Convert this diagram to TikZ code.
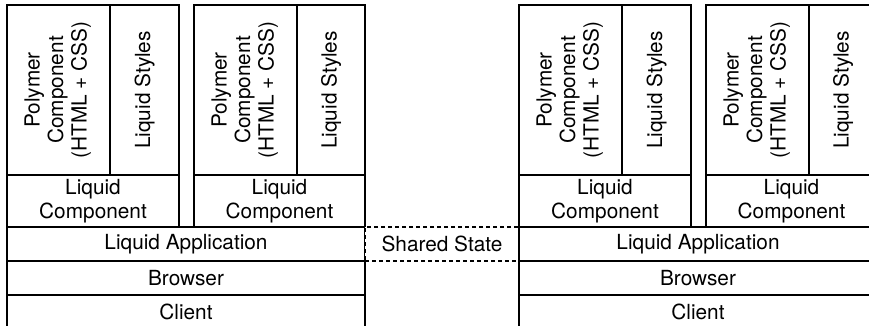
\documentclass[tikz,border=0pt]{standalone}
\usepackage{fontspec}
\setmainfont{TeX Gyre Heros}
\usetikzlibrary{positioning}
\begin{document}
\begin{tikzpicture}[x=1pt,y=-1pt,
    box/.style={draw,line width=1.5pt,inner sep=0pt,outer sep=0pt,
      font=\fontsize{20.8}{23.5}\selectfont,align=center},
    shared/.style={box,fill=white,dash pattern=on 4pt off 3pt}]
      \useasboundingbox (0,0) rectangle (869,326);
      \node[box,anchor=north west,minimum width=103pt,minimum height=170pt] (polyA) at (7,5)
        {\rotatebox{90}{\begin{tabular}{@{}c@{}}Polymer\\Component\\(HTML + CSS)\end{tabular}}};
      \node[box,right=0pt of polyA,minimum width=69pt,minimum height=170pt] (stylesA)
        {\rotatebox{90}{Liquid Styles}};
      \node[box,below right=0pt and 0pt of polyA.south west,minimum width=172pt,minimum height=52pt] (compA)
        {Liquid\\Component};
      \node[box,anchor=north west,minimum width=103pt,minimum height=170pt] (polyB) at (194,5)
        {\rotatebox{90}{\begin{tabular}{@{}c@{}}Polymer\\Component\\(HTML + CSS)\end{tabular}}};
      \node[box,right=0pt of polyB,minimum width=68pt,minimum height=170pt] (stylesB)
        {\rotatebox{90}{Liquid Styles}};
      \node[box,below right=0pt and 0pt of polyB.south west,minimum width=171pt,minimum height=52pt] (compB)
        {Liquid\\Component};
      \node[box,below right=0pt and 0pt of compA.south west,minimum width=358pt,minimum height=34pt] (app1)
        {Liquid Application};
      \node[box,below=0pt of app1,minimum width=358pt,minimum height=34pt] (browser1) {Browser};
      \node[box,below=0pt of browser1,minimum width=358pt,minimum height=34pt] (client1) {Client};
      \node[shared,right=0pt of app1,minimum width=154pt,minimum height=34pt] (state) {Shared State};
      \node[box,anchor=north west,minimum width=103pt,minimum height=170pt] (polyC) at (519,5)
        {\rotatebox{90}{\begin{tabular}{@{}c@{}}Polymer\\Component\\(HTML + CSS)\end{tabular}}};
      \node[box,right=0pt of polyC,minimum width=69pt,minimum height=170pt] (stylesC)
        {\rotatebox{90}{Liquid Styles}};
      \node[box,below right=0pt and 0pt of polyC.south west,minimum width=172pt,minimum height=52pt] (compC)
        {Liquid\\Component};
      \node[box,anchor=north west,minimum width=103pt,minimum height=170pt] (polyD) at (706,5)
        {\rotatebox{90}{\begin{tabular}{@{}c@{}}Polymer\\Component\\(HTML + CSS)\end{tabular}}};
      \node[box,right=0pt of polyD,minimum width=68pt,minimum height=170pt] (stylesD)
        {\rotatebox{90}{Liquid Styles}};
      \node[box,below right=0pt and 0pt of polyD.south west,minimum width=171pt,minimum height=52pt] (compD)
        {Liquid\\Component};
      \node[box,below right=0pt and 0pt of compC.south west,minimum width=358pt,minimum height=34pt] (app2)
        {Liquid Application};
      \node[box,below=0pt of app2,minimum width=358pt,minimum height=34pt] (browser2) {Browser};
      \node[box,below=0pt of browser2,minimum width=358pt,minimum height=34pt] (client2) {Client};
    \end{tikzpicture}
\end{document}
